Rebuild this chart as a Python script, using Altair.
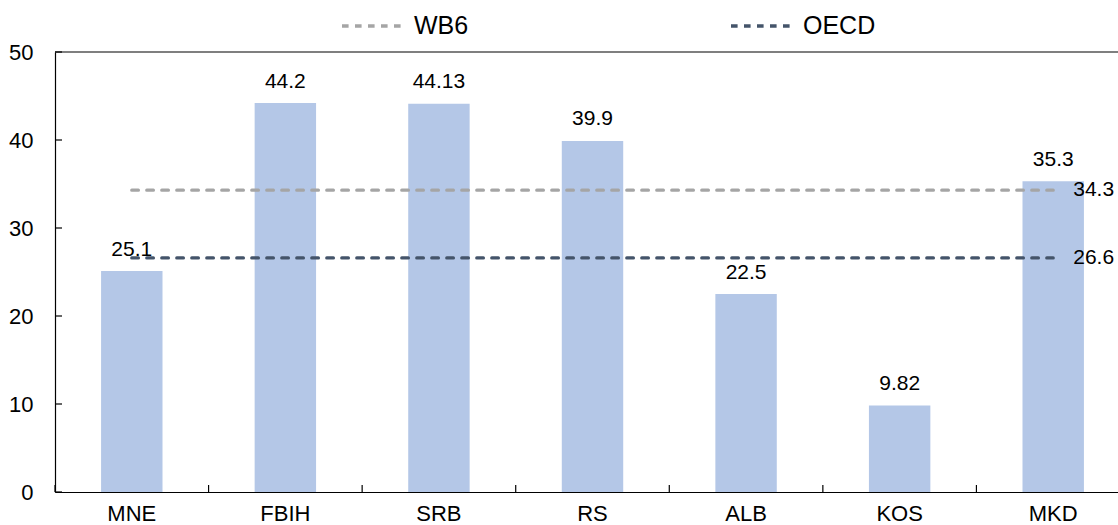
import altair as alt
import pandas as pd

# Bar values by economy
categories = ["MNE", "FBIH", "SRB", "RS", "ALB", "KOS", "MKD"]
values = [25.1, 44.2, 44.13, 39.9, 22.5, 9.82, 35.3]

# Reference averages drawn as dashed lines
bench_names = ["WB6", "OECD"]
bench_values = [34.3, 26.6]
bench_colors = ["#a5a5a5", "#44546a"]

y_ticks = [0, 10, 20, 30, 40, 50]

FONT = "Liberation Sans Narrow, Arial Narrow, Liberation Sans, sans-serif"
W, H = 1063, 440
X_RANGE = 1075  # band range runs a little past the right edge
PAD_IN, PAD_OUT = 0.6, 0.3
STEP = X_RANGE / len(categories)
DASH = [6.6, 8.4]

bars_df = pd.DataFrame({"cat": categories, "value": values,
                        "label": [str(v) for v in values]})
bench_df = pd.DataFrame({"series": bench_names, "value": bench_values,
                         "start": categories[0], "end": categories[-1],
                         "label": [str(v) for v in bench_values]})
yt_df = pd.DataFrame({"v": y_ticks})

x_scale = alt.Scale(domain=categories, range=[0, X_RANGE],
                    paddingInner=PAD_IN, paddingOuter=PAD_OUT)
y_scale = alt.Scale(domain=[0, 50], nice=False, zero=True)

x_enc = alt.X("cat:N", scale=x_scale, sort=categories,
              axis=alt.Axis(title=None, labelAngle=0, ticks=False, tickSize=0,
                            labelPadding=11, labelFontSize=22,
                            domainColor="#000000", domainWidth=1.2,
                            labelColor="#000000"))
y_enc = alt.Y("value:Q", scale=y_scale,
              axis=alt.Axis(title=None, values=y_ticks, ticks=False, tickSize=0,
                            grid=False, labelPadding=22, labelFontSize=22,
                            domainColor="#000000", domainWidth=1.2,
                            labelColor="#000000"))

bars = alt.Chart(bars_df).mark_bar(color="#b4c7e7").encode(x=x_enc, y=y_enc)

bar_labels = alt.Chart(bars_df).mark_text(
    baseline="alphabetic", dy=-15.5, fontSize=21, color="#000000"
).encode(x=alt.X("cat:N", scale=x_scale, sort=categories),
         y=alt.Y("value:Q", scale=y_scale), text="label:N")

bench_lines = alt.Chart(bench_df).mark_rule(
    strokeWidth=3.3, strokeDash=DASH, strokeCap="round"
).encode(
    x=alt.X("start:N", scale=x_scale, sort=categories),
    x2="end:N",
    y=alt.Y("value:Q", scale=y_scale),
    color=alt.Color("series:N",
                    scale=alt.Scale(domain=bench_names, range=bench_colors),
                    legend=alt.Legend(title=None, orient="none",
                                      legendX=285, legendY=-59,
                                      direction="horizontal", columns=2,
                                      columnPadding=255, padding=0,
                                      symbolType="stroke", symbolSize=3844,
                                      symbolStrokeWidth=3.3,
                                      symbolDash=[6.6, 6.4],
                                      labelFontSize=25, labelOffset=8,
                                      labelColor="#000000")),
)

bench_labels = alt.Chart(bench_df).mark_text(
    align="left", baseline="middle", dx=20, fontSize=21, color="#000000"
).encode(x=alt.X("end:N", scale=x_scale, sort=categories),
         y=alt.Y("value:Q", scale=y_scale), text="label:N")

# Inward ticks on the value axis
y_tick_marks = alt.Chart(yt_df).mark_rule(color="#000000", strokeWidth=1.2).encode(
    y=alt.Y("v:Q", scale=y_scale), x=alt.value(0), x2=alt.value(7))

# Inward ticks on the band boundaries of the bottom axis
x_tick_marks = alt.Chart(bars_df).mark_rule(color="#000000", strokeWidth=1.2).encode(
    x=alt.X("cat:N", scale=x_scale, sort=categories, bandPosition=0),
    xOffset=alt.value(-PAD_OUT * STEP),
    y=alt.value(H), y2=alt.value(H - 7))

# Upper border of the plot frame
top_line = alt.Chart(yt_df).transform_filter("datum.v == 50").mark_rule(
    color="#000000", strokeWidth=1.2
).encode(y=alt.Y("v:Q", scale=y_scale), x=alt.value(0), x2=alt.value(X_RANGE))

chart = alt.layer(
    bars, bench_lines, bar_labels, bench_labels, y_tick_marks, x_tick_marks, top_line
).properties(
    width=W, height=H,
    padding={"left": 55, "top": 52, "right": 0, "bottom": 33},
    autosize=alt.AutoSizeParams(type="none"),
).configure(font=FONT).configure_view(stroke=None)

chart.save("out.html", embed_options={"renderer": "svg", "actions": False})
